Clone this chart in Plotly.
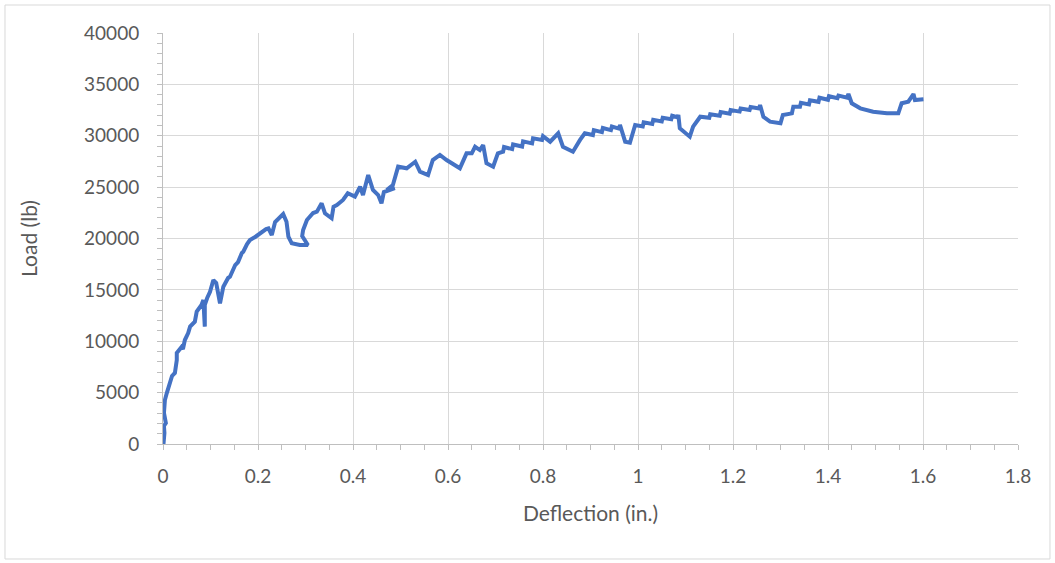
import plotly.graph_objects as go

# Load-deflection record of the test specimen
deflection_in = [
    0.001, 0.003, 0.002, 0.006, 0.002, 0.004, 0.008, 0.015, 0.019, 0.025,
    0.029, 0.029, 0.039, 0.042, 0.046, 0.053, 0.057, 0.067, 0.071, 0.081,
    0.085, 0.088, 0.088, 0.093, 0.099, 0.106, 0.112, 0.120, 0.127, 0.137,
    0.141, 0.152, 0.158, 0.166, 0.169, 0.177, 0.183, 0.194, 0.204, 0.211,
    0.217, 0.222, 0.229, 0.236, 0.246, 0.253, 0.260, 0.264, 0.271, 0.288,
    0.305, 0.293, 0.295, 0.303, 0.316, 0.324, 0.334, 0.341, 0.355, 0.359,
    0.366, 0.379, 0.389, 0.404, 0.415, 0.421, 0.432, 0.442, 0.453, 0.460,
    0.465, 0.488, 0.471, 0.484, 0.495, 0.513, 0.531, 0.541, 0.558, 0.568,
    0.583, 0.597, 0.625, 0.639, 0.650, 0.657, 0.667, 0.674, 0.681, 0.695,
    0.705, 0.716, 0.718, 0.735, 0.737, 0.756, 0.758, 0.777, 0.779, 0.798,
    0.800, 0.815, 0.832, 0.842, 0.863, 0.878, 0.888, 0.905, 0.907, 0.924,
    0.926, 0.943, 0.945, 0.960, 0.962, 0.973, 0.983, 0.994, 1.010, 1.012,
    1.030, 1.032, 1.050, 1.052, 1.070, 1.072, 1.083, 1.085, 1.088, 1.109,
    1.116, 1.131, 1.150, 1.152, 1.172, 1.174, 1.193, 1.195, 1.214, 1.216,
    1.235, 1.237, 1.255, 1.257, 1.264, 1.278, 1.300, 1.305, 1.324, 1.327,
    1.341, 1.343, 1.360, 1.362, 1.380, 1.382, 1.400, 1.402, 1.420, 1.422,
    1.440, 1.443, 1.450, 1.468, 1.495, 1.524, 1.548, 1.555, 1.569, 1.580,
    1.583, 1.601,
]
load_lb = [
    0, 1070, 1750, 2040, 3020, 4280, 4960, 6230, 6620, 6910,
    8170, 8860, 9440, 9250, 10120, 10800, 11420, 11900, 12880, 13530,
    14010, 11420, 13530, 14210, 14820, 15960, 15670, 13690, 15310, 16160,
    16280, 17420, 17710, 18590, 18710, 19460, 19850, 20150, 20510, 20660,
    20920, 20990, 20340, 21610, 22120, 22380, 21630, 20170, 19530, 19370,
    19370, 20240, 20830, 21800, 22480, 22610, 23430, 22450, 21970, 23090,
    23260, 23750, 24400, 24070, 25040, 24230, 26180, 24720, 24230, 23430,
    24520, 24910, 24720, 25210, 26990, 26830, 27470, 26500, 26180, 27640,
    28130, 27640, 26830, 28290, 28290, 28930, 28610, 29100, 27320, 26990,
    28290, 28450, 28900, 28700, 29150, 28950, 29450, 29250, 29750, 29600,
    29950, 29420, 30240, 28930, 28450, 29590, 30240, 30070, 30550, 30350,
    30750, 30550, 30900, 30700, 31050, 29420, 29320, 31050, 30900, 31300,
    31150, 31550, 31400, 31750, 31600, 31950, 31800, 32020, 30720, 29910,
    30880, 31850, 31750, 32100, 31950, 32300, 32150, 32500, 32350, 32650,
    32500, 32800, 32650, 33000, 31850, 31370, 31210, 32020, 32180, 32830,
    32830, 33200, 33050, 33450, 33300, 33700, 33500, 33850, 33650, 33900,
    33700, 34060, 33160, 32670, 32340, 32180, 32180, 33160, 33310, 34060,
    33480, 33550,
]

x_ticks = [0, 0.2, 0.4, 0.6, 0.8, 1, 1.2, 1.4, 1.6, 1.8]
y_ticks = [0, 5000, 10000, 15000, 20000, 25000, 30000, 35000, 40000]

LINE = "#4472C4"
TEXT = "#595959"
GRID = "#D9D9D9"
AXIS = "#BFBFBF"
FONT = "Lato, 'Open Sans', sans-serif"

fig = go.Figure(
    go.Scatter(
        x=deflection_in,
        y=load_lb,
        mode="lines",
        line=dict(color=LINE, width=4),
        hoverinfo="x+y",
    )
)

axis_common = dict(
    showgrid=True,
    gridcolor=GRID,
    gridwidth=1,
    showline=True,
    linecolor=AXIS,
    linewidth=1,
    ticks="outside",
    ticklen=5,
    tickcolor=AXIS,
    zeroline=False,
    tickfont=dict(family=FONT, size=19, color=TEXT),
)

fig.update_xaxes(
    range=[0, 1.8],
    tickvals=x_ticks,
    ticktext=[str(v) for v in x_ticks],
    minor=dict(ticks="outside", dtick=0.05, ticklen=5, tickcolor=AXIS, showgrid=False),
    title=dict(text="Deflection (in.)", font=dict(family=FONT, size=21, color=TEXT), standoff=20),
    ticklabelstandoff=10,
    **axis_common,
)
fig.update_yaxes(
    range=[0, 40000],
    tickvals=y_ticks,
    ticktext=[str(v) for v in y_ticks],
    minor=dict(ticks="outside", dtick=1000, ticklen=5, tickcolor=AXIS, showgrid=False),
    title=dict(text="Load (lb)", font=dict(family=FONT, size=21, color=TEXT), standoff=40),
    ticklabelstandoff=14,
    **axis_common,
)

fig.update_layout(
    width=1055,
    height=563,
    margin=dict(l=163, r=37, t=33, b=119, autoexpand=False),
    paper_bgcolor="white",
    plot_bgcolor="white",
    showlegend=False,
    shapes=[
        dict(
            type="rect",
            xref="paper",
            yref="paper",
            x0=-0.1848,
            x1=1.0374,
            y0=-0.2798,
            y1=1.0681,
            line=dict(color=GRID, width=1),
            fillcolor="rgba(0,0,0,0)",
            layer="below",
        )
    ],
)

fig.write_html("out.html")
